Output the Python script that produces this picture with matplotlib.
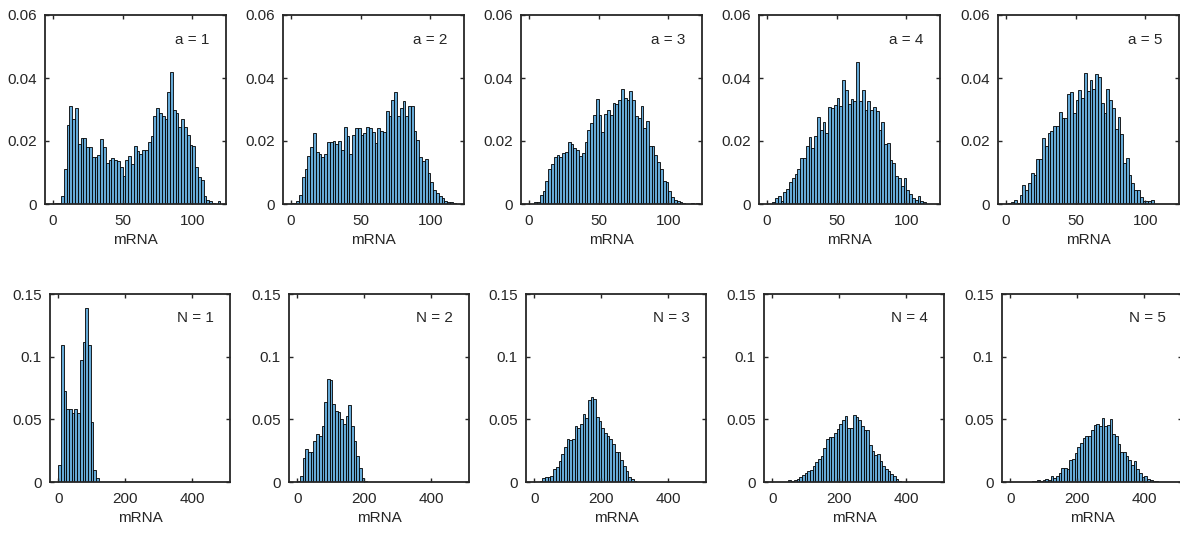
# Histogramas de mRNA: variando a (fila superior) y N (fila inferior)
import numpy as np
import matplotlib.pyplot as plt
from matplotlib.ticker import FormatStrFormatter

plt.rcParams['font.family'] = ['Liberation Sans', 'DejaVu Sans']

# Fila superior: probabilidad por bin (ancho 2)
a_labels = ['a = 1', 'a = 2', 'a = 3', 'a = 4', 'a = 5']
a_start = [2, 0, 4, 4, 2]
a_width = 2
a1 = [0.0003, 0.0003, 0.0024, 0.011, 0.025, 0.031, 0.027, 0.0305, 0.019, 0.021,
      0.021, 0.018, 0.018, 0.015, 0.015, 0.0157, 0.0205, 0.018, 0.013, 0.014,
      0.0145, 0.014, 0.0135, 0.0116, 0.009, 0.014, 0.0153, 0.0128, 0.0185, 0.0167,
      0.016, 0.017, 0.017, 0.0197, 0.0215, 0.028, 0.0305, 0.029, 0.028, 0.027,
      0.0355, 0.042, 0.030, 0.029, 0.0245, 0.027, 0.0245, 0.022, 0.0187, 0.0185,
      0.0118, 0.0087, 0.0076, 0.0026, 0.0014, 0.001, 0.0003, 0, 0.0009]
a2 = [0.0003, 0.0002, 0.001, 0.003, 0.0085, 0.011, 0.0153, 0.018, 0.0225, 0.0166,
      0.016, 0.015, 0.016, 0.0197, 0.0197, 0.020, 0.019, 0.020, 0.017, 0.0245,
      0.0215, 0.016, 0.022, 0.024, 0.024, 0.022, 0.0225, 0.0245, 0.024, 0.023,
      0.0193, 0.024, 0.0233, 0.023, 0.0295, 0.028, 0.033, 0.0357, 0.028, 0.0306,
      0.0328, 0.028, 0.031, 0.031, 0.0233, 0.0204, 0.015, 0.0135, 0.0143, 0.0097,
      0.0069, 0.0046, 0.0035, 0.0026, 0.0019, 0.001, 0.0007, 0.0005, 0.0003]
a3 = [0.0005, 0.0007, 0.0029, 0.004, 0.0073, 0.011, 0.0128, 0.0148, 0.0157, 0.0148,
      0.0162, 0.0164, 0.0198, 0.0192, 0.0177, 0.017, 0.0151, 0.0162, 0.0196, 0.0234,
      0.0257, 0.0281, 0.0333, 0.0283, 0.023, 0.0285, 0.030, 0.0283, 0.032, 0.0316,
      0.033, 0.0365, 0.0336, 0.033, 0.036, 0.033, 0.0278, 0.0273, 0.031, 0.0241,
      0.0265, 0.0185, 0.0185, 0.0157, 0.0133, 0.011, 0.0072, 0.0070, 0.004, 0.0023,
      0.0014, 0.001, 0.0005, 0.0002, 0, 0, 0.0002, 0, 0.0002]
a4 = [0.0005, 0.002, 0.0024, 0.001, 0.0037, 0.0048, 0.0069, 0.0081, 0.0095, 0.011,
      0.0147, 0.0145, 0.0183, 0.0212, 0.0178, 0.0215, 0.0276, 0.0236, 0.026, 0.0224,
      0.0307, 0.0305, 0.0314, 0.0336, 0.0312, 0.0393, 0.0363, 0.0317, 0.0334, 0.0326,
      0.0452, 0.0328, 0.0363, 0.0297, 0.0326, 0.0297, 0.0308, 0.0295, 0.0234, 0.026,
      0.0192, 0.0194, 0.0139, 0.013, 0.0088, 0.0083, 0.0058, 0.0083, 0.0046, 0.0031,
      0.002, 0.0014, 0.0024, 0.001, 0.0005]
a5 = [0.0003, 0.0006, 0.0012, 0.0004, 0.003, 0.0061, 0.0046, 0.0067, 0.010, 0.0093,
      0.0143, 0.0143, 0.021, 0.0185, 0.0225, 0.0233, 0.0247, 0.0247, 0.0292, 0.0273,
      0.0273, 0.035, 0.0354, 0.029, 0.0329, 0.0363, 0.0335, 0.0416, 0.0358, 0.0393,
      0.0365, 0.0412, 0.0403, 0.032, 0.0289, 0.0365, 0.0331, 0.0305, 0.0238, 0.0275,
      0.0222, 0.013, 0.0145, 0.0091, 0.0066, 0.0046, 0.0046, 0.0022, 0.001, 0.001,
      0.001, 0.0012]

# Fila inferior: probabilidad por bin (ancho 8)
n_labels = ['N = 1', 'N = 2', 'N = 3', 'N = 4', 'N = 5']
n_start = [0, 0, 16, 48, 64]
n_width = 8
n1 = [0.0138, 0.1096, 0.073, 0.058, 0.058, 0.055, 0.058, 0.055, 0.0976, 0.1117,
      0.139, 0.109, 0.0476, 0.0096, 0.003]
n2 = [0.0005, 0.005, 0.019, 0.026, 0.024, 0.024, 0.033, 0.0385, 0.037, 0.045,
      0.0635, 0.082, 0.0815, 0.062, 0.0566, 0.0555, 0.0505, 0.0465, 0.053, 0.0617,
      0.045, 0.0325, 0.0205, 0.011, 0.003, 0.0005]
n3 = [0.0005, 0.003, 0.004, 0.004, 0.005, 0.01, 0.012, 0.017, 0.022, 0.0277,
      0.034, 0.0333, 0.034, 0.0445, 0.043, 0.046, 0.0545, 0.051, 0.0657, 0.068,
      0.066, 0.052, 0.0484, 0.043, 0.039, 0.037, 0.034, 0.0306, 0.024, 0.024,
      0.0178, 0.0125, 0.0085, 0.004, 0.0024, 0.001, 0.0003]
n4 = [0.0016, 0.001, 0.0013, 0.0027, 0.004, 0.0053, 0.007, 0.0085, 0.0098, 0.0125,
      0.0157, 0.0186, 0.0205, 0.027, 0.0343, 0.036, 0.036, 0.039, 0.0423, 0.046,
      0.0492, 0.0524, 0.043, 0.043, 0.0532, 0.052, 0.0492, 0.045, 0.0412, 0.0412,
      0.0298, 0.025, 0.0218, 0.0226, 0.017, 0.0125, 0.0106, 0.009, 0.0066, 0.0045,
      0.0024, 0.001]
n5 = [0.0005, 0.0008, 0.0013, 0.001, 0.0016, 0.0024, 0.0019, 0.0045, 0.0032, 0.005,
      0.0072, 0.011, 0.011, 0.0106, 0.0173, 0.0186, 0.023, 0.028, 0.031, 0.035,
      0.0364, 0.037, 0.0418, 0.0457, 0.046, 0.045, 0.051, 0.045, 0.0457, 0.05,
      0.0383, 0.037, 0.0303, 0.0237, 0.0237, 0.0205, 0.0178, 0.0138, 0.0165, 0.0106,
      0.0072, 0.004, 0.005, 0.0027, 0.0019, 0.001, 0.0008, 0.0003]

a_vals = [a1, a2, a3, a4, a5]
n_vals = [n1, n2, n3, n4, n5]

W, H = 1180, 534
fig = plt.figure(figsize=(W / 100, H / 100), dpi=100)

color = (0.4, 0.668, 0.845)
ink = '#262626'
fs = 11


def panel(left, top, bottom, width, start, bw, vals, label, xlim, xticks, ylim, yticks):
    ax = fig.add_axes([left / W, 1 - bottom / H, width / W, (bottom - top) / H])
    vals = np.array(vals)
    edges = start + bw * np.arange(len(vals))
    ax.bar(edges, vals, width=bw, align='edge', color=color,
           edgecolor='black', linewidth=0.6)
    ax.set_xlim(xlim)
    ax.set_ylim(ylim)
    ax.set_xticks(xticks)
    ax.set_yticks(yticks)
    ax.yaxis.set_major_formatter(FormatStrFormatter('%g'))
    ax.tick_params(direction='in', top=True, right=True, length=3,
                   width=1.0, labelsize=fs, colors=ink)
    ax.tick_params(axis='x', pad=7)
    ax.tick_params(axis='y', pad=6)
    for s in ax.spines.values():
        s.set_linewidth(1.3)
        s.set_color(ink)
    ax.set_xlabel('mRNA', fontsize=fs, color=ink, labelpad=4)
    ax.text(0.91, 0.87, label, transform=ax.transAxes, ha='right', va='center',
            fontsize=fs, color=ink)
    return ax


top_left = [45, 283, 521, 759, 998]
bot_left = [50, 289, 526, 764, 1002]

for i in range(5):
    panel(top_left[i], 15, 204, 181, a_start[i], a_width, a_vals[i], a_labels[i],
          (-5.5, 124), [0, 50, 100], (0, 0.06), [0, 0.02, 0.04, 0.06])
    panel(bot_left[i], 294, 482, 180, n_start[i], n_width, n_vals[i], n_labels[i],
          (-25, 512), [0, 200, 400], (0, 0.15), [0, 0.05, 0.1, 0.15])

plt.savefig('out.png', dpi=100)
